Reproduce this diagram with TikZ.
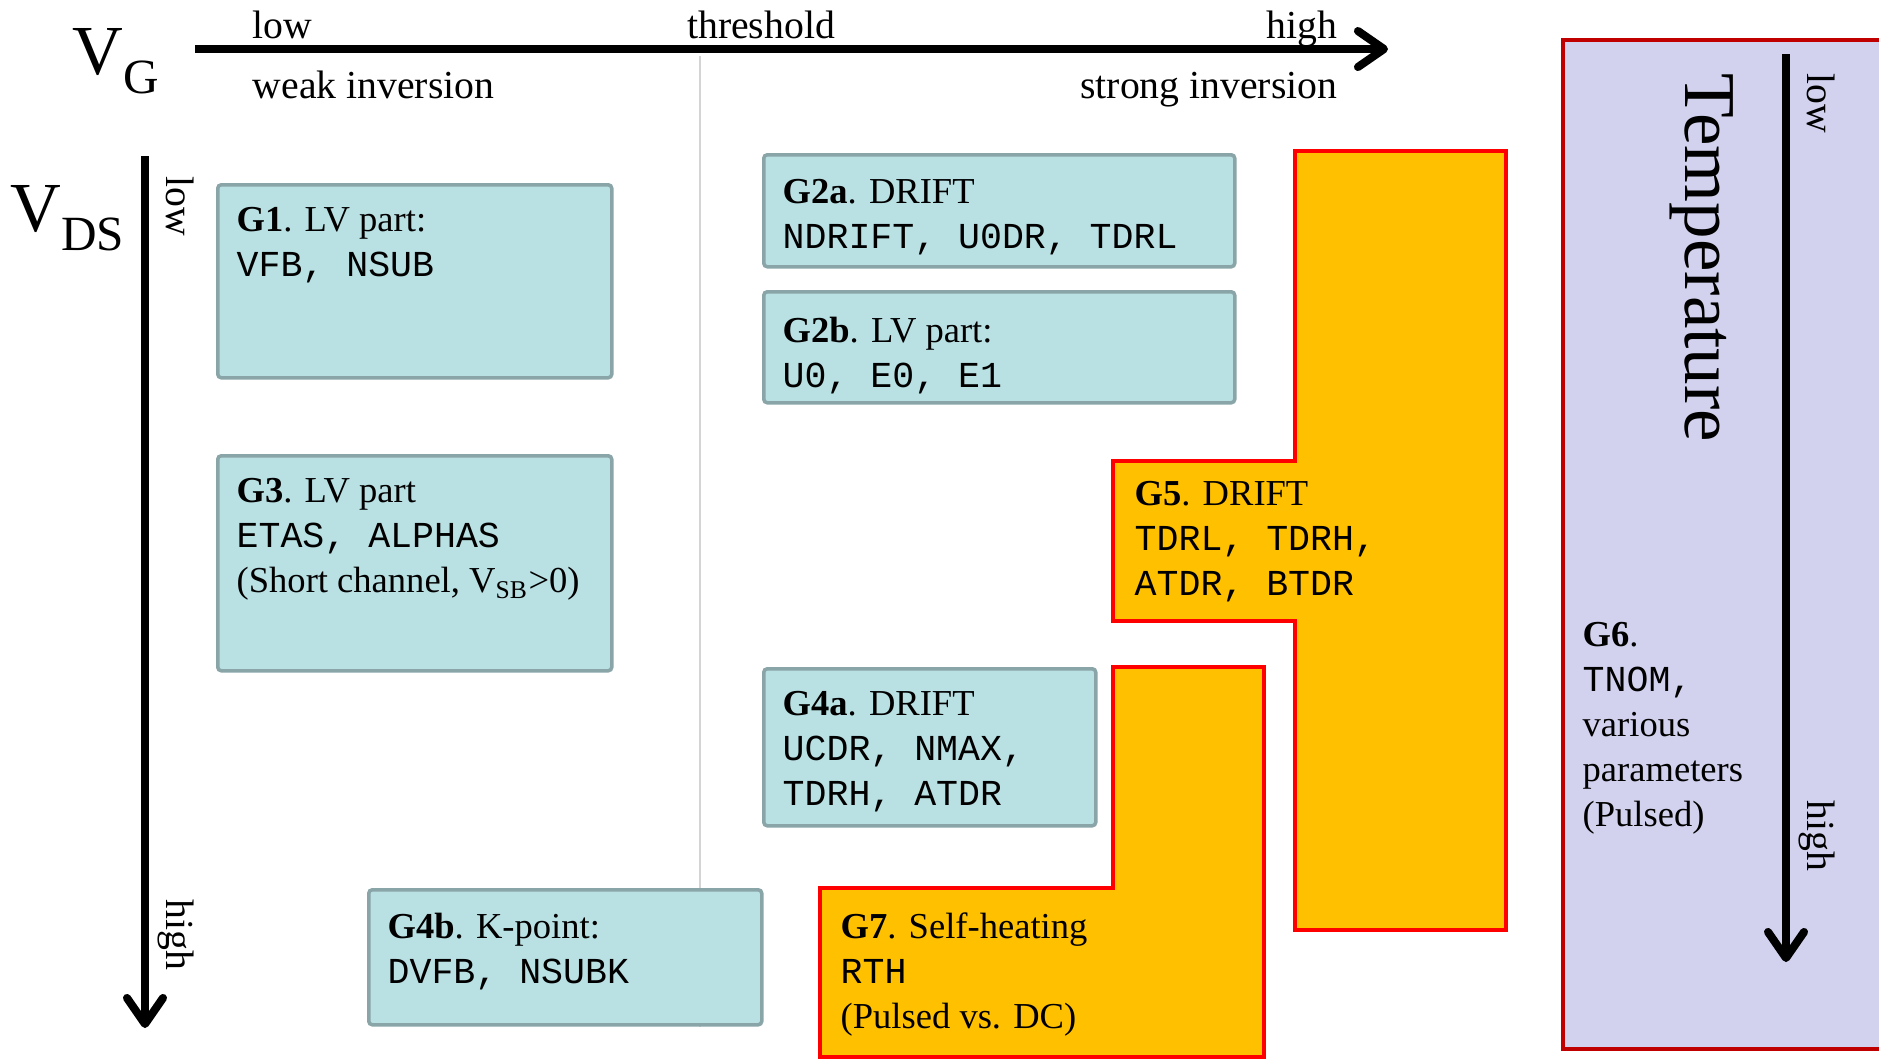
\documentclass[tikz,border=0pt]{standalone}
\usepackage{fontspec}
\setmainfont{Liberation Serif}
\setmonofont{Liberation Mono}
\usetikzlibrary{arrows.meta, positioning}

\definecolor{paramfill}{HTML}{B9E0E3}
\definecolor{paramline}{HTML}{8AA5A8}
\definecolor{driftfill}{HTML}{FFC000}
\definecolor{driftline}{HTML}{FF0000}
\definecolor{tempfill}{HTML}{D2D2EF}
\definecolor{templine}{HTML}{C00000}
\definecolor{thrline}{HTML}{D4D4D4}

\newcommand{\grp}[1]{\textbf{#1}.}
\newcommand{\bigvar}[2]{{\fontsize{20}{20}\selectfont #1}%
  \raisebox{-5.5pt}{\fontsize{14}{14}\selectfont #2}}

\tikzset{
  param/.style={rectangle, draw=paramline, fill=paramfill, line width=1pt,
                rounded corners=1pt, anchor=north west, inner sep=0pt},
  drift/.style={draw=driftline, fill=driftfill, line width=1.3pt},
  tempbox/.style={rectangle, draw=templine, fill=tempfill, line width=1.2pt,
                  anchor=north west, inner sep=0pt},
  txt/.style={align=left, inner sep=0pt,
              font=\fontsize{10.4}{12.8}\selectfont},
  axis/.style={line width=2.3pt, -{Straight Barb[length=2.6mm, width=3.6mm, round]}},
  axlbl/.style={inner sep=0pt, font=\fontsize{11.3}{13}\selectfont},
}

\begin{document}
\begin{tikzpicture}[
  big/.style={inner sep=0pt, font=\fontsize{20}{20}\selectfont},
]
  \path[use as bounding box] (0,0) rectangle (18.79,-10.61);
  \clip (0,0) rectangle (18.79,-10.61);

  % threshold divider
  \coordinate (thr0) at (7.00,-0.56);
  \coordinate (thr1) at (7.00,-10.27);
  \draw[thrline, line width=0.6pt] (thr0) -- (thr1);

  % gate voltage axis
  \node[big, anchor=base west] (vg) at (0.72,-0.74) {\bigvar{V}{G}};
  \coordinate (vg0) at (1.95,-0.49);
  \coordinate (vg1) at (13.88,-0.49);
  \draw[axis] (vg0) -- (vg1);
  \node[axlbl, anchor=base west] (vglow) at (2.52,-0.38) {low};
  \node[axlbl, anchor=base] (vgthr) at (7.61,-0.38) {threshold};
  \node[axlbl, anchor=base east] (vghigh) at (13.38,-0.38) {high};
  \node[axlbl, anchor=base west] (weak) at (2.52,-0.98) {weak inversion};
  \node[axlbl, anchor=base east] (strong) at (13.38,-0.98) {strong inversion};

  % drain voltage axis
  \node[big, anchor=base west] (vds) at (0.10,-2.31) {\bigvar{V}{DS}};
  \coordinate (vds0) at (1.45,-1.56);
  \coordinate (vds1) at (1.45,-10.28);
  \draw[axis] (vds0) -- (vds1);
  \node[axlbl, rotate=-90, anchor=base west] (vdslow) at (1.66,-1.76) {low};
  \node[axlbl, rotate=-90, anchor=base west] (vdshigh) at (1.66,-8.99) {high};

  % temperature panel
  \node[tempbox, minimum width=3.6cm, minimum height=10.09cm] (g6) at (15.61,-0.38) {};
  \coordinate (t0) at (17.86,-0.54);
  \coordinate (t1) at (17.86,-9.62);
  \draw[axis] (t0) -- (t1);
  \node[big, rotate=-90, anchor=base west, font=\fontsize{20.8}{21}\selectfont] (temp)
    at (16.85,-0.73) {Temperature};
  \node[axlbl, rotate=-90, anchor=base west] (tlow) at (18.07,-0.73) {low};
  \node[axlbl, rotate=-90, anchor=base west] (thigh) at (18.07,-8.00) {high};
  \node[txt, below right=5.84cm and 0.21cm of g6.north west] (g6t)
    {\grp{G6}\\\texttt{TNOM,}\\various\\parameters\\(Pulsed)};

  % parameter groups
  \node[param, minimum width=3.94cm, minimum height=1.93cm] (g1) at (2.16,-1.83) {};
  \node[param, minimum width=3.94cm, minimum height=2.15cm] (g3) at (2.16,-4.54) {};
  \node[param, minimum width=4.71cm, minimum height=1.12cm] (g2a) at (7.62,-1.53) {};
  \node[param, minimum width=4.71cm, minimum height=1.11cm] (g2b) at (7.62,-2.90) {};
  \node[param, minimum width=3.32cm, minimum height=1.57cm] (g4a) at (7.62,-6.67) {};
  \node[param, minimum width=3.93cm, minimum height=1.35cm] (g4b) at (3.67,-8.88) {};

  \node[txt, below right=0.24cm and 0.2cm of g1.north west] (g1t)
    {\grp{G1} LV part:\\\texttt{VFB, NSUB}};
  \node[txt, below right=0.24cm and 0.2cm of g3.north west] (g3t)
    {\grp{G3} LV part\\\texttt{ETAS, ALPHAS}\\(Short channel, V\textsubscript{SB}>0)};
  \node[txt, below right=0.26cm and 0.2cm of g2a.north west] (g2at)
    {\grp{G2a} DRIFT\\\texttt{NDRIFT, U0DR, TDRL}};
  \node[txt, below right=0.26cm and 0.2cm of g2b.north west] (g2bt)
    {\grp{G2b} LV part:\\\texttt{U0, E0, E1}};
  \node[txt, below right=0.24cm and 0.2cm of g4a.north west] (g4at)
    {\grp{G4a} DRIFT\\\texttt{UCDR, NMAX,}\\\texttt{TDRH, ATDR}};
  \node[txt, below right=0.24cm and 0.2cm of g4b.north west] (g4bt)
    {\grp{G4b} K-point:\\\texttt{DVFB, NSUBK}};

  % drift and self-heating regions
  \draw[drift] (12.95,-1.51) -- (15.06,-1.51) -- (15.06,-9.30) -- (12.95,-9.30)
    -- (12.95,-6.21) -- (11.13,-6.21) -- (11.13,-4.61) -- (12.95,-4.61) -- cycle;
  \coordinate (g5) at (11.13,-4.61);
  \node[txt, below right=0.2cm and 0.21cm of g5] (g5t)
    {\grp{G5} DRIFT\\\texttt{TDRL, TDRH,}\\\texttt{ATDR, BTDR}};

  \draw[drift] (11.13,-6.67) -- (12.64,-6.67) -- (12.64,-10.57) -- (8.20,-10.57)
    -- (8.20,-8.88) -- (11.13,-8.88) -- cycle;
  \coordinate (g7) at (8.20,-8.88);
  \node[txt, below right=0.24cm and 0.2cm of g7] (g7t)
    {\grp{G7} Self-heating\\\texttt{RTH}\\(Pulsed vs. DC)};

\end{tikzpicture}
\end{document}
